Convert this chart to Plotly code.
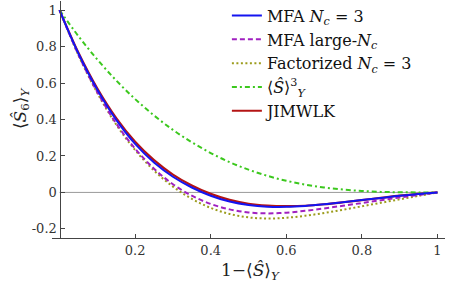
import plotly.graph_objects as go

x_vals = [0.0, 0.05, 0.1, 0.15, 0.2, 0.25, 0.3, 0.35, 0.4, 0.45, 0.5,
          0.55, 0.6, 0.65, 0.7, 0.75, 0.8, 0.85, 0.9, 0.95, 1.0]

mfa_nc3 = [1.0, 0.762, 0.563, 0.398, 0.266, 0.164, 0.086, 0.027, -0.018, -0.05, -0.069,
           -0.078, -0.079, -0.074, -0.065, -0.054, -0.042, -0.03, -0.018, -0.008, 0.0]
mfa_large = [1.0, 0.755, 0.55, 0.378, 0.24, 0.13, 0.045, -0.018, -0.063, -0.093, -0.11,
             -0.115, -0.111, -0.101, -0.088, -0.073, -0.058, -0.043, -0.028, -0.014, 0.0]
factorized = [1.0, 0.752, 0.545, 0.372, 0.232, 0.12, 0.032, -0.035, -0.085, -0.118, -0.137,
              -0.143, -0.139, -0.128, -0.113, -0.095, -0.076, -0.057, -0.038, -0.019, 0.0]
s_cubed = [1.0, 0.857, 0.729, 0.614, 0.512, 0.422, 0.343, 0.275, 0.216, 0.166, 0.125,
           0.091, 0.064, 0.043, 0.027, 0.016, 0.008, 0.003, 0.001, 0.0001, 0.0]
jimwlk = [1.0, 0.766, 0.57, 0.408, 0.278, 0.177, 0.098, 0.038, -0.008, -0.041, -0.062,
          -0.072, -0.075, -0.073, -0.065, -0.054, -0.042, -0.03, -0.018, -0.008, 0.0]

x_ticks = [0.2, 0.4, 0.6, 0.8, 1.0]
x_ticklabels = ["0.2", "0.4", "0.6", "0.8", "1"]
y_ticks = [-0.2, 0.0, 0.2, 0.4, 0.6, 0.8, 1.0]
y_ticklabels = ["-0.2", "0", "0.2", "0.4", "0.6", "0.8", "1"]

names = {
    "mfa": "MFA <i>N<sub>c</sub></i> = 3",
    "large": "MFA large-<i>N<sub>c</sub></i>",
    "fact": "Factorized <i>N<sub>c</sub></i> = 3",
    "s3": "⟨<i>Ŝ</i>⟩<sup>3</sup><sub><i>Y</i></sub>",
    "jim": "JIMWLK",
}

FONT = "DejaVu Serif"
TICK_FS = 13
LEG_FS = 16
TITLE_FS = 17
fig = go.Figure()

fig.add_trace(go.Scatter(x=x_vals, y=jimwlk, mode="lines", name=names["jim"],
                         line=dict(color="#b41414", width=2.2, shape="spline"),
                         legendrank=5))
fig.add_trace(go.Scatter(x=x_vals, y=s_cubed, mode="lines", name=names["s3"],
                         line=dict(color="#3cc81e", width=2, dash="5px,3px,2px,3px", shape="spline"),
                         legendrank=4))
fig.add_trace(go.Scatter(x=x_vals, y=factorized, mode="lines", name=names["fact"],
                         line=dict(color="#9c9c1c", width=2, dash="2px,2.5px", shape="spline"),
                         legendrank=3))
fig.add_trace(go.Scatter(x=x_vals, y=mfa_large, mode="lines", name=names["large"],
                         line=dict(color="#a020c0", width=2, dash="5px,3px", shape="spline"),
                         legendrank=2))
fig.add_trace(go.Scatter(x=x_vals, y=mfa_nc3, mode="lines", name=names["mfa"],
                         line=dict(color="#1414f0", width=2, shape="spline"),
                         legendrank=1))

fig.add_shape(type="line", x0=0, x1=1, y0=0, y1=0, xref="x", yref="y",
              line=dict(color="#999999", width=1), layer="below")

fig.update_layout(
    width=453, height=286,
    margin=dict(l=52, r=8, t=1, b=48, autoexpand=False),
    paper_bgcolor="white", plot_bgcolor="white",
    font=dict(family=FONT, size=TICK_FS, color="#222222"),
    showlegend=True,
    legend=dict(x=0.445, y=1.01, xanchor="left", yanchor="top",
                bgcolor="rgba(0,0,0,0)", font=dict(family=FONT, size=LEG_FS, color="#111111"),
                traceorder="normal", itemwidth=30),
    xaxis=dict(range=[-0.02, 1.02], tickvals=x_ticks, ticktext=x_ticklabels,
               showgrid=False, zeroline=False, showline=True, linecolor="#444444",
               linewidth=1.3, ticks="inside", ticklen=4, tickcolor="#444444",
               automargin=False,
               tickfont=dict(family=FONT, size=TICK_FS, color="#333333")),
    yaxis=dict(range=[-0.25, 1.05], tickvals=y_ticks, ticktext=y_ticklabels,
               showgrid=False, zeroline=False, showline=True, linecolor="#444444",
               linewidth=1.3, ticks="inside", ticklen=4, tickcolor="#444444",
               anchor="free", position=0.02 / 1.04, automargin=False,
               tickfont=dict(family=FONT, size=TICK_FS, color="#333333")),
    annotations=[
        dict(text="1−⟨<i>Ŝ</i>⟩<sub><i>Y</i></sub>", xref="paper", yref="paper",
             x=0.504, y=-0.143, xanchor="center", yanchor="middle", showarrow=False,
             font=dict(family=FONT, size=TITLE_FS, color="#222222")),
        dict(text="⟨<i>Ŝ</i><sub>6</sub>⟩<sub><i>Y</i></sub>", xref="paper", yref="paper",
             x=-0.079, y=0.548, xanchor="center", yanchor="middle", showarrow=False,
             textangle=-90, font=dict(family=FONT, size=TITLE_FS, color="#222222")),
    ],
)

fig.write_html("out.html", config={"displayModeBar": False},
               post_script="document.body.style.margin='0px';")
